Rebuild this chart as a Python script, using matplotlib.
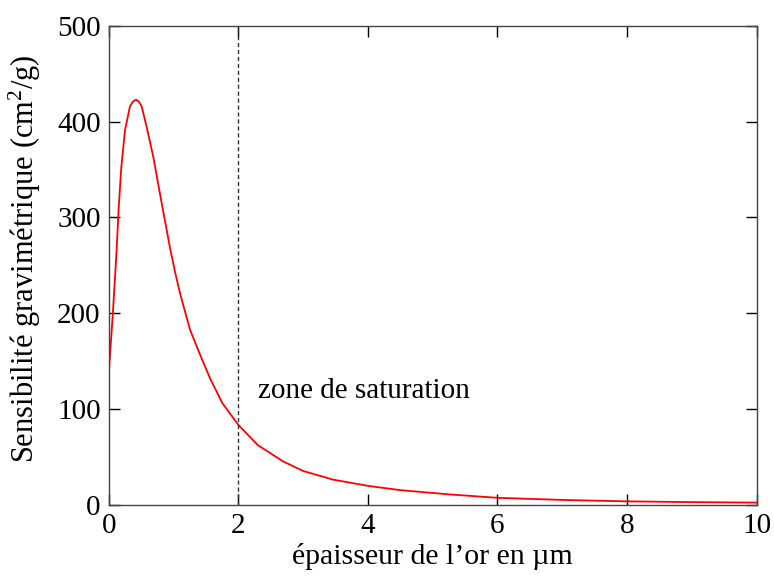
import numpy as np
import matplotlib
matplotlib.use("Agg")
import matplotlib.pyplot as plt

# values
epaisseur = [0, 0.06, 0.115, 0.15, 0.19, 0.247, 0.324, 0.37, 0.417, 0.46,
             0.505, 0.58, 0.685, 0.80, 0.94, 1.02, 1.10, 1.25, 1.41, 1.56,
             1.75, 2.0, 2.3, 2.69, 3.0, 3.46, 4.0, 4.5, 5.27, 6.0,
             7.0, 8.0, 9.0, 10.0]
sensibilite = [140, 200, 262, 310, 352, 391, 416, 421, 423, 421,
               416, 395, 363, 320, 269, 243, 220, 183, 156, 132,
               106, 83, 62, 45, 35, 26, 19.5, 15, 10.5, 7,
               4.8, 3.3, 2.5, 2]

x_ticks = [0, 2, 4, 6, 8, 10]
y_ticks = [0, 100, 200, 300, 400, 500]
saturation_x = 2

plt.rcParams["font.family"] = ["Liberation Serif", "DejaVu Serif"]
plt.rcParams["mathtext.fontset"] = "custom"
plt.rcParams["mathtext.rm"] = "Liberation Serif"
plt.rcParams["mathtext.it"] = "Liberation Serif:italic"
plt.rcParams["font.size"] = 21

fig = plt.figure(figsize=(7.74, 5.76), dpi=100)
ax = fig.add_axes([0.1408, 0.1241, 0.8366, 0.8308])

ax.plot(epaisseur, sensibilite, color="red", lw=1.3)
ax.axvline(saturation_x, color="#333333", lw=1.0, linestyle=(0, (3, 2)))
ax.text(2.3, 119, "zone de saturation", ha="left", va="center")

ax.set_xlim(0, 10)
ax.set_ylim(0, 500)
ax.set_xticks(x_ticks)
ax.set_yticks(y_ticks)
ax.tick_params(direction="in", length=8, width=1, top=True, right=True,
               colors="black", pad=6)

for s in ax.spines.values():
    s.set_color("#444444")
    s.set_linewidth(1)

ax.set_xlabel("épaisseur de l’or en µm", fontsize=21.5)
ax.set_ylabel("Sensibilité gravimétrique (cm$^2$/g)", fontsize=22)
ax.xaxis.label.set_va("center")
ax.yaxis.label.set_va("center")
ax.xaxis.set_label_coords(0.5, -0.108)
ax.yaxis.set_label_coords(-0.13, 0.513)

fig.savefig("out.png", dpi=100)
